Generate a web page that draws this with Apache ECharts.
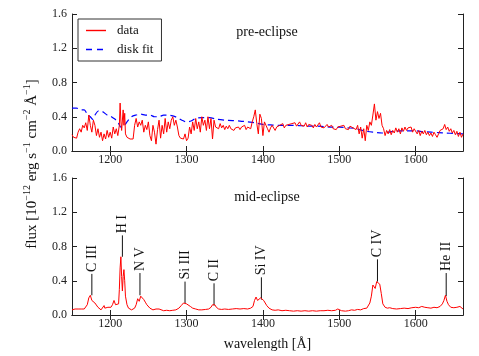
<!DOCTYPE html>
<html><head><meta charset="utf-8">
<script src="https://cdn.jsdelivr.net/npm/echarts@6/dist/echarts.min.js"></script>
<style>html,body{margin:0;padding:0;background:#fff}#c{width:479px;height:356px}</style>
</head><body><div id="c"></div>
<script>
var xTicks = [1200, 1300, 1400, 1500, 1600];
var yTicks = [0, 0.4, 0.8, 1.2, 1.6];

var preData = [[1150,0.19],[1152,0.16],[1154,0.17],[1156,0.15],[1158,0.22],[1160,0.26],[1162,0.22],[1164,0.30],[1166,0.27],[1168,0.33],[1170,0.24],[1172,0.42],[1174,0.30],[1176,0.22],[1178,0.36],[1180,0.30],[1182,0.18],[1184,0.26],[1186,0.16],[1188,0.22],[1190,0.12],[1192,0.20],[1194,0.14],[1196,0.24],[1198,0.16],[1200,0.22],[1202,0.15],[1204,0.28],[1206,0.20],[1208,0.26],[1210,0.18],[1212,0.30],[1213,0.56],[1214,0.35],[1215,0.24],[1217,0.48],[1218,0.30],[1219,0.44],[1220,0.20],[1222,0.16],[1224,0.17],[1226,0.14],[1228,0.15],[1230,0.14],[1232,0.30],[1234,0.38],[1236,0.28],[1238,0.34],[1240,0.30],[1242,0.36],[1244,0.22],[1246,0.30],[1248,0.25],[1250,0.34],[1252,0.18],[1254,0.12],[1256,0.30],[1258,0.22],[1260,0.08],[1262,0.25],[1264,0.36],[1266,0.15],[1268,0.30],[1270,0.20],[1272,0.38],[1274,0.22],[1276,0.34],[1278,0.26],[1280,0.36],[1282,0.40],[1284,0.30],[1286,0.36],[1288,0.28],[1290,0.18],[1292,0.15],[1294,0.17],[1296,0.14],[1298,0.20],[1300,0.12],[1302,0.15],[1304,0.28],[1306,0.20],[1308,0.34],[1310,0.24],[1312,0.38],[1314,0.26],[1316,0.34],[1318,0.22],[1320,0.40],[1322,0.30],[1324,0.36],[1326,0.24],[1328,0.40],[1330,0.26],[1332,0.38],[1334,0.14],[1336,0.36],[1338,0.28],[1340,0.30],[1342,0.26],[1344,0.32],[1346,0.27],[1348,0.30],[1350,0.25],[1352,0.29],[1354,0.26],[1356,0.30],[1358,0.26],[1360,0.28],[1362,0.24],[1364,0.27],[1366,0.26],[1368,0.28],[1370,0.25],[1372,0.28],[1374,0.26],[1376,0.30],[1378,0.25],[1380,0.28],[1382,0.30],[1384,0.26],[1386,0.34],[1388,0.40],[1390,0.48],[1392,0.32],[1394,0.20],[1396,0.43],[1398,0.38],[1400,0.18],[1402,0.34],[1404,0.30],[1406,0.26],[1408,0.22],[1410,0.27],[1412,0.30],[1414,0.28],[1416,0.24],[1418,0.28],[1420,0.26],[1422,0.30],[1424,0.28],[1426,0.32],[1428,0.27],[1430,0.30],[1432,0.28],[1434,0.31],[1436,0.29],[1438,0.32],[1440,0.30],[1442,0.33],[1444,0.29],[1446,0.31],[1448,0.34],[1450,0.30],[1452,0.32],[1454,0.29],[1456,0.33],[1458,0.28],[1460,0.31],[1462,0.29],[1464,0.30],[1466,0.27],[1468,0.31],[1470,0.28],[1472,0.30],[1474,0.33],[1476,0.28],[1478,0.30],[1480,0.27],[1482,0.29],[1484,0.31],[1486,0.28],[1488,0.26],[1490,0.30],[1492,0.26],[1494,0.28],[1496,0.25],[1498,0.28],[1500,0.26],[1502,0.29],[1504,0.27],[1506,0.30],[1508,0.26],[1510,0.28],[1512,0.25],[1514,0.29],[1516,0.31],[1518,0.27],[1520,0.29],[1522,0.25],[1524,0.30],[1526,0.20],[1528,0.28],[1530,0.15],[1532,0.26],[1534,0.12],[1536,0.30],[1538,0.24],[1540,0.34],[1542,0.30],[1544,0.42],[1546,0.55],[1548,0.36],[1550,0.46],[1552,0.38],[1554,0.44],[1556,0.30],[1558,0.26],[1560,0.18],[1562,0.24],[1564,0.20],[1566,0.25],[1568,0.19],[1570,0.24],[1572,0.21],[1574,0.27],[1576,0.22],[1578,0.26],[1580,0.20],[1582,0.27],[1584,0.23],[1586,0.28],[1588,0.24],[1590,0.27],[1592,0.25],[1594,0.28],[1596,0.22],[1598,0.26],[1600,0.24],[1602,0.20],[1604,0.24],[1606,0.18],[1608,0.23],[1610,0.20],[1612,0.24],[1614,0.19],[1616,0.22],[1618,0.18],[1620,0.21],[1622,0.17],[1624,0.22],[1626,0.19],[1628,0.16],[1630,0.20],[1632,0.24],[1634,0.22],[1636,0.26],[1638,0.31],[1640,0.25],[1642,0.28],[1644,0.23],[1646,0.26],[1648,0.21],[1650,0.24],[1652,0.19],[1654,0.23],[1656,0.17],[1658,0.22],[1660,0.16],[1662,0.20]];

var diskFit = [[1150,0.50],[1156,0.50],[1162,0.48],[1166,0.48],[1170,0.43],[1174,0.40],[1177,0.37],[1180,0.42],[1185,0.47],[1190,0.46],[1196,0.42],[1200,0.41],[1205,0.38],[1210,0.34],[1214,0.28],[1218,0.29],[1222,0.34],[1228,0.40],[1234,0.42],[1240,0.43],[1246,0.42],[1252,0.42],[1258,0.40],[1264,0.40],[1270,0.42],[1276,0.42],[1282,0.41],[1288,0.39],[1294,0.36],[1300,0.34],[1306,0.35],[1312,0.38],[1320,0.39],[1330,0.39],[1340,0.37],[1350,0.36],[1360,0.355],[1370,0.35],[1380,0.34],[1390,0.33],[1400,0.31],[1410,0.305],[1420,0.30],[1430,0.30],[1440,0.30],[1450,0.295],[1460,0.29],[1470,0.29],[1480,0.285],[1490,0.28],[1500,0.28],[1510,0.27],[1520,0.265],[1530,0.24],[1540,0.225],[1548,0.215],[1556,0.21],[1564,0.22],[1572,0.23],[1580,0.235],[1590,0.235],[1600,0.235],[1610,0.225],[1620,0.22],[1630,0.215],[1640,0.21],[1650,0.205],[1662,0.20]];

var midData = [[1150,0.06],[1152,0.05],[1154,0.07],[1156,0.06],[1158,0.07],[1160,0.05],[1162,0.07],[1164,0.06],[1166,0.07],[1168,0.08],[1170,0.12],[1172,0.20],[1174,0.23],[1176,0.17],[1178,0.16],[1180,0.14],[1182,0.12],[1184,0.09],[1186,0.07],[1188,0.06],[1190,0.07],[1192,0.11],[1193,0.08],[1195,0.07],[1197,0.09],[1199,0.10],[1201,0.09],[1203,0.12],[1205,0.17],[1207,0.12],[1209,0.10],[1211,0.13],[1212,0.30],[1213,0.55],[1214,0.68],[1215,0.45],[1216,0.28],[1217,0.45],[1218,0.53],[1219,0.40],[1220,0.22],[1222,0.12],[1224,0.08],[1226,0.07],[1228,0.06],[1230,0.07],[1232,0.08],[1234,0.12],[1236,0.19],[1238,0.16],[1240,0.22],[1242,0.23],[1244,0.18],[1246,0.15],[1248,0.12],[1250,0.10],[1252,0.08],[1254,0.07],[1256,0.06],[1258,0.06],[1260,0.07],[1262,0.09],[1264,0.07],[1266,0.06],[1270,0.05],[1274,0.055],[1278,0.05],[1282,0.055],[1286,0.06],[1290,0.08],[1293,0.11],[1296,0.14],[1298,0.14],[1300,0.13],[1302,0.12],[1305,0.10],[1308,0.08],[1312,0.07],[1316,0.06],[1320,0.06],[1325,0.065],[1329,0.07],[1332,0.09],[1334,0.12],[1336,0.10],[1337,0.12],[1339,0.09],[1342,0.07],[1346,0.065],[1350,0.07],[1355,0.065],[1360,0.07],[1365,0.075],[1370,0.07],[1375,0.075],[1380,0.07],[1384,0.08],[1387,0.10],[1389,0.17],[1391,0.21],[1393,0.17],[1395,0.16],[1397,0.20],[1399,0.18],[1401,0.17],[1403,0.14],[1405,0.11],[1408,0.08],[1412,0.06],[1416,0.055],[1420,0.06],[1425,0.05],[1430,0.055],[1435,0.05],[1440,0.045],[1445,0.05],[1450,0.045],[1455,0.05],[1460,0.045],[1465,0.05],[1470,0.045],[1475,0.05],[1480,0.05],[1485,0.055],[1490,0.05],[1495,0.055],[1498,0.07],[1500,0.065],[1503,0.05],[1508,0.045],[1512,0.05],[1516,0.06],[1520,0.055],[1524,0.065],[1528,0.06],[1532,0.075],[1536,0.08],[1538,0.10],[1540,0.14],[1542,0.22],[1544,0.35],[1545,0.36],[1547,0.31],[1549,0.39],[1551,0.40],[1553,0.36],[1555,0.25],[1557,0.13],[1560,0.09],[1563,0.08],[1566,0.085],[1570,0.075],[1575,0.07],[1580,0.075],[1585,0.08],[1590,0.075],[1595,0.085],[1600,0.09],[1604,0.085],[1608,0.10],[1612,0.09],[1616,0.085],[1620,0.08],[1624,0.09],[1628,0.085],[1632,0.10],[1635,0.13],[1637,0.17],[1639,0.23],[1641,0.16],[1643,0.12],[1646,0.09],[1650,0.085],[1654,0.09],[1658,0.10],[1662,0.07]];

var lineNames = ['C III', 'H I', 'N V', 'Si III', 'C II', 'Si IV', 'C IV', 'He II'];
var lineWave = [1176, 1216, 1239, 1298, 1336, 1398, 1550, 1640];
var lineLow = [0.23, 0.68, 0.23, 0.14, 0.11, 0.18, 0.39, 0.22];
var lineHigh = [0.48, 0.93, 0.49, 0.39, 0.37, 0.44, 0.65, 0.49];

var FONT = '"Liberation Serif", "DejaVu Serif", serif';
var AX = '#222';
var annot = lineWave.map(function (w, i) { return [w, lineLow[i], lineHigh[i]]; });

function xAx(grid, pos, name) {
  var o = {
    type: 'value', gridIndex: grid, position: pos, min: 1150, max: 1662,
    axisLine: {show: true, lineStyle: {color: AX, width: 1}},
    axisTick: {show: true, inside: true, length: 5, customValues: xTicks, lineStyle: {color: AX}},
    axisLabel: {show: pos === 'bottom', customValues: xTicks, color: AX, fontFamily: FONT, fontSize: 12, margin: 3,
      formatter: function (v) { return String(v); }},
    splitLine: {show: false}
  };
  if (name) {
    o.name = name; o.nameLocation = 'middle'; o.nameGap = 22;
    o.nameTextStyle = {fontFamily: FONT, fontSize: 14, color: '#111'};
  }
  return o;
}
function yAx(grid, pos) {
  return {
    type: 'value', gridIndex: grid, position: pos, min: 0, max: 1.6, interval: 0.4,
    axisLine: {show: true, lineStyle: {color: AX, width: 1}},
    axisTick: {show: true, inside: true, length: 5, lineStyle: {color: AX}},
    axisLabel: {show: pos === 'left', color: AX, fontFamily: FONT, fontSize: 12, margin: 5,
      formatter: function (v) { return v.toFixed(1); }},
    splitLine: {show: false}
  };
}

var chart = echarts.init(document.getElementById('c'), null, {renderer: 'canvas'});
chart.setOption({
  animation: false,
  backgroundColor: '#fff',
  grid: [
    {left: 72, top: 14, width: 391, height: 137},
    {left: 72, top: 178, width: 391, height: 137}
  ],
  legend: {
    data: [
      {name: 'data', icon: 'path://M0,0h20v1.4h-20z', itemStyle: {color: '#ff0000'}},
      {name: 'disk fit', icon: 'path://M0,0h6v1.4h-6zM11,0h6v1.4h-6zM20,0h0.01v1.4h-0.01z', itemStyle: {color: '#0000ff'}}
    ],
    orient: 'vertical', left: 78, top: 19,
    borderColor: '#333', borderWidth: 1, borderRadius: 0, padding: [5, 8, 5, 8],
    itemWidth: 20, itemHeight: 1.4, itemGap: 6,
    textStyle: {fontFamily: FONT, fontSize: 13, color: '#111', padding: [0, 0, 0, 6]}
  },
  xAxis: [xAx(0, 'bottom'), xAx(0, 'top'), xAx(1, 'bottom', 'wavelength [Å]'), xAx(1, 'top')],
  yAxis: [yAx(0, 'left'), yAx(0, 'right'), yAx(1, 'left'), yAx(1, 'right')],
  graphic: [
    {type: 'text', x: 267, y: 32, style: {text: 'pre-eclipse', font: '14px ' + FONT, fill: '#111', align: 'center', verticalAlign: 'middle'}},
    {type: 'text', x: 267, y: 197, style: {text: 'mid-eclipse', font: '14px ' + FONT, fill: '#111', align: 'center', verticalAlign: 'middle'}},
    {type: 'text', x: 31, y: 164, rotation: Math.PI / 2,
      style: {
        text: '{n|flux [10}{s|−12}{n| erg s}{s|−1}{n| cm}{s|−2}{n| Å}{s|−1}{n|]}',
        align: 'center', verticalAlign: 'middle', fill: '#111',
        rich: {
          n: {fontFamily: FONT, fontSize: 15, lineHeight: 18, verticalAlign: 'bottom', fill: '#111'},
          s: {fontFamily: FONT, fontSize: 10, lineHeight: 18, verticalAlign: 'top', fill: '#111'}
        }
      }}
  ],
  series: [
    {name: 'data', type: 'line', xAxisIndex: 0, yAxisIndex: 0, data: preData, symbol: 'none',
      lineStyle: {color: '#ff0000', width: 1}, itemStyle: {color: '#ff0000'}, z: 3},
    {name: 'disk fit', type: 'line', xAxisIndex: 0, yAxisIndex: 0, data: diskFit, symbol: 'none', smooth: 0.3,
      lineStyle: {color: '#0000ff', width: 1.2, type: [6, 4]}, itemStyle: {color: '#0000ff'}, z: 2},
    {name: 'mid', type: 'line', xAxisIndex: 2, yAxisIndex: 2, data: midData, symbol: 'none',
      lineStyle: {color: '#ff0000', width: 1}, itemStyle: {color: '#ff0000'}},
    {name: 'lines', type: 'custom', xAxisIndex: 2, yAxisIndex: 2, data: annot, clip: false,
      renderItem: function (params, api) {
        var p1 = api.coord([api.value(0), api.value(1)]);
        var p2 = api.coord([api.value(0), api.value(2)]);
        return {type: 'group', children: [
          {type: 'line', shape: {x1: p1[0], y1: p1[1], x2: p2[0], y2: p2[1]}, style: {stroke: '#111', lineWidth: 1}},
          {type: 'text', x: p2[0], y: p2[1] - 2, rotation: Math.PI / 2,
            style: {text: lineNames[params.dataIndex], font: '14px ' + FONT, fill: '#111', align: 'left', verticalAlign: 'middle'}}
        ]};
      }}
  ]
});
</script></body></html>
